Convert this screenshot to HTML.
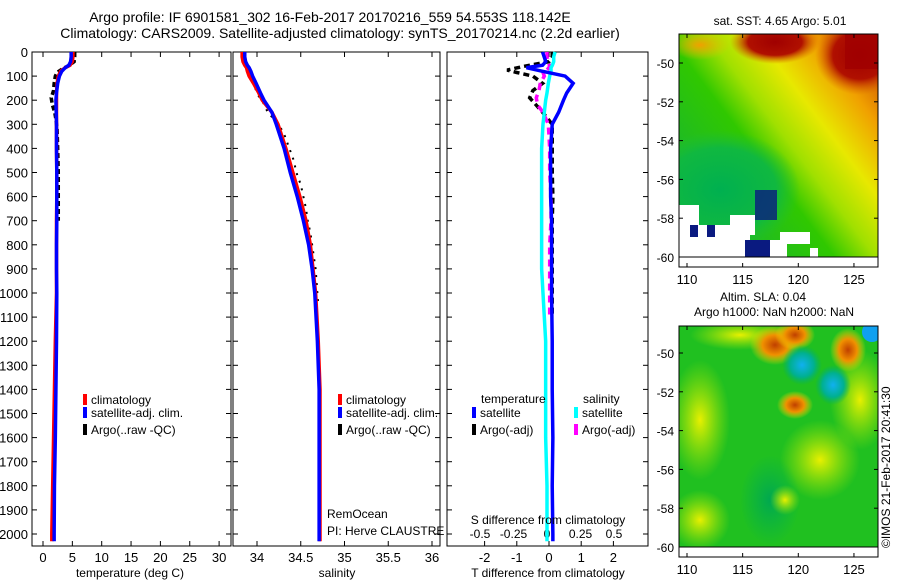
<!DOCTYPE html>
<html><head><meta charset="utf-8"><style>
html,body{margin:0;padding:0;background:#fff}
svg text{font-family:"Liberation Sans",sans-serif;fill:#000}
</style></head><body>
<svg id="fig" width="900" height="580" viewBox="0 0 900 580" xmlns="http://www.w3.org/2000/svg">
<defs>
<radialGradient id="sstRed" cx="0.5" cy="0.5" r="0.5"><stop offset="0" stop-color="#a00000"/><stop offset="0.6" stop-color="#b01000"/><stop offset="1" stop-color="#d86000" stop-opacity="0"/></radialGradient>
<radialGradient id="sstOr" cx="0.5" cy="0.5" r="0.5"><stop offset="0" stop-color="#f0a000"/><stop offset="1" stop-color="#f0c000" stop-opacity="0"/></radialGradient>
<linearGradient id="sstBase" x1="1" y1="0" x2="0" y2="0.85"><stop offset="0" stop-color="#c03000"/><stop offset="0.2" stop-color="#f0a000"/><stop offset="0.36" stop-color="#e8e800"/><stop offset="0.5" stop-color="#a0e000"/><stop offset="0.62" stop-color="#30c800"/><stop offset="1" stop-color="#10b040"/></linearGradient>
<radialGradient id="slaO" cx="0.5" cy="0.5" r="0.5"><stop offset="0" stop-color="#c04000"/><stop offset="0.5" stop-color="#f09000"/><stop offset="1" stop-color="#f0e000" stop-opacity="0"/></radialGradient>
<radialGradient id="slaB" cx="0.5" cy="0.5" r="0.5"><stop offset="0" stop-color="#10b0f0"/><stop offset="0.6" stop-color="#00b090"/><stop offset="1" stop-color="#00b060" stop-opacity="0"/></radialGradient>
<radialGradient id="slaY" cx="0.5" cy="0.5" r="0.5"><stop offset="0" stop-color="#e8f000"/><stop offset="1" stop-color="#b0e800" stop-opacity="0"/></radialGradient>
<radialGradient id="slaG" cx="0.5" cy="0.5" r="0.5"><stop offset="0" stop-color="#00a850"/><stop offset="1" stop-color="#00b050" stop-opacity="0"/></radialGradient>
<radialGradient id="sstG" cx="0.5" cy="0.5" r="0.5"><stop offset="0" stop-color="#00b050"/><stop offset="0.7" stop-color="#10b840"/><stop offset="1" stop-color="#20c030" stop-opacity="0"/></radialGradient>
</defs>
<text x="330" y="22" font-size="14" text-anchor="middle">Argo profile: IF 6901581_302 16-Feb-2017 20170216_559 54.553S 118.142E</text>
<text x="340" y="38" font-size="14" text-anchor="middle">Climatology: CARS2009. Satellite-adjusted climatology: synTS_20170214.nc (2.2d earlier)</text>
<g id="p1"></g>
<g id="p2"></g>
<g id="p3"></g>

<g>
<text x="780" y="25" font-size="12" text-anchor="middle">sat. SST: 4.65  Argo: 5.01</text>
<clipPath id="c1"><rect x="679" y="34" width="199" height="223"/></clipPath>
<g clip-path="url(#c1)">
<rect x="679" y="34" width="199" height="223" fill="url(#sstBase)"/>
<ellipse cx="700" cy="45" rx="30" ry="15" fill="url(#sstOr)"/>
<ellipse cx="720" cy="190" rx="80" ry="60" fill="url(#sstG)"/>
<ellipse cx="775" cy="42" rx="45" ry="22" fill="url(#sstRed)"/>
<ellipse cx="860" cy="55" rx="45" ry="40" fill="url(#sstRed)"/>
<rect x="845" y="34" width="33" height="35" fill="#a00000" opacity="0.8"/>
<rect x="679" y="205" width="20" height="52" fill="#fff"/>
<rect x="695" y="225" width="55" height="32" fill="#fff"/>
<rect x="730" y="215" width="25" height="20" fill="#fff"/>
<rect x="757" y="240" width="30" height="17" fill="#fff"/>
<rect x="780" y="232" width="30" height="12" fill="#fff"/>
<rect x="810" y="248" width="8" height="9" fill="#fff"/>
<rect x="745" y="240" width="25" height="17" fill="#0a1a80"/>
<rect x="755" y="190" width="22" height="30" fill="#0a1a80" opacity="0.8"/>
<rect x="690" y="225" width="8" height="12" fill="#0a1a80"/>
<rect x="707" y="225" width="8" height="12" fill="#0a1a80"/>
</g>
<rect x="679" y="34" width="199" height="223" fill="none" stroke="#000"/>
<rect x="679" y="257" width="199" height="10" fill="#fff" stroke="#000"/>
</g>

<g>
<text x="763" y="301" font-size="12" text-anchor="middle">Altim. SLA: 0.04</text>
<text x="774" y="316" font-size="12" text-anchor="middle">Argo h1000: NaN h2000: NaN</text>
<clipPath id="c2"><rect x="679" y="326" width="199" height="221"/></clipPath>
<g clip-path="url(#c2)">
<rect x="679" y="326" width="199" height="221" fill="#20c020"/>
<ellipse cx="700" cy="420" rx="30" ry="60" fill="url(#slaY)"/>
<ellipse cx="860" cy="400" rx="30" ry="50" fill="url(#slaY)"/>
<ellipse cx="820" cy="460" rx="40" ry="40" fill="url(#slaY)"/>
<ellipse cx="700" cy="520" rx="30" ry="30" fill="url(#slaY)"/>
<ellipse cx="770" cy="500" rx="30" ry="45" fill="url(#slaG)"/>
<ellipse cx="740" cy="335" rx="50" ry="15" fill="url(#slaY)"/>
<ellipse cx="775" cy="345" rx="25" ry="20" fill="url(#slaO)"/>
<ellipse cx="795" cy="335" rx="20" ry="15" fill="url(#slaO)"/>
<ellipse cx="848" cy="350" rx="18" ry="22" fill="url(#slaO)"/>
<ellipse cx="795" cy="405" rx="18" ry="14" fill="url(#slaO)"/>
<ellipse cx="802" cy="365" rx="20" ry="20" fill="url(#slaB)"/>
<ellipse cx="833" cy="385" rx="18" ry="20" fill="url(#slaB)"/>
<ellipse cx="872" cy="332" rx="10" ry="10" fill="#10a0f0"/>
<ellipse cx="785" cy="500" rx="15" ry="15" fill="url(#slaY)"/>
</g>
<rect x="679" y="326" width="199" height="221" fill="none" stroke="#000"/>
<rect x="679" y="547" width="199" height="10" fill="#fff" stroke="#000"/>
<text transform="translate(890,548) rotate(-90)" font-size="12">©IMOS 21-Feb-2017 20:41:30</text>
</g>
<g id="maps"></g>
</svg>
<script>
// ---- data ----
const depths      = [0,20,40,55,65,80,100,130,170,200,250,300,400,500,600,700,800,900,1000,1200,1400,1600,1800,2000,2030];
const tempClim    = [5.1,5.1,5.0,4.6,3.8,3.0,2.6,2.4,2.3,2.3,2.3,2.3,2.3,2.35,2.35,2.3,2.3,2.3,2.3,2.1,1.95,1.8,1.65,1.5,1.5];
const tempSat     = [4.8,4.8,4.7,4.4,3.8,3.2,2.8,2.5,2.3,2.2,2.25,2.3,2.3,2.35,2.35,2.35,2.3,2.3,2.35,2.3,2.2,2.1,1.95,1.9,1.9];
const argoDepths  = [0,20,40,55,70,85,100,130,160,190,220,250,280,320,400,500,600,700];
const tempArgo    = [5.4,5.4,5.3,4.5,3.3,2.4,2.1,1.9,1.8,1.4,1.6,2.0,2.2,2.4,2.5,2.6,2.6,2.6];
const salClim     = [33.83,33.83,33.84,33.86,33.88,33.89,33.91,33.96,34.02,34.06,34.17,34.24,34.33,34.41,34.49,34.56,34.61,34.64,34.67,34.70,34.72,34.72,34.72,34.72,34.72];
const salSat      = [33.86,33.86,33.87,33.89,33.91,33.93,33.95,33.99,34.04,34.08,34.17,34.22,34.31,34.38,34.46,34.53,34.59,34.63,34.66,34.69,34.71,34.71,34.71,34.71,34.71];
const argoSDepths = [150,170,190,210,230,250,300,350,400,450,500,550,600,650,700,750,800,850,900,950,1000,1050];
const salArgo     = [33.98,34.00,34.03,34.07,34.10,34.12,34.25,34.32,34.37,34.42,34.45,34.50,34.53,34.56,34.58,34.61,34.63,34.65,34.67,34.68,34.69,34.70];
const tDiffSat    = [-0.2,-0.15,-0.1,-0.2,-0.7,-0.2,0.5,0.75,0.55,0.45,0.3,0.1,0.05,0.05,0.05,0.08,0.08,0.08,0.08,0.1,0.1,0.12,0.1,0.12,0.12];
const sDiffSat    = [0.06,0.05,0.05,0.04,0.03,0.03,0.02,0.01,0.0,-0.01,-0.02,-0.03,-0.04,-0.04,-0.04,-0.04,-0.04,-0.04,-0.03,-0.01,-0.01,-0.01,0.0,0.0,0.0];
const argoDDepths = [0,20,40,60,75,85,100,130,160,190,220,250,300,400,500,600,700,800,900,1000,1100];
const tDiffArgo   = [0.1,0.1,0.0,-0.8,-1.3,-1.0,-0.5,-0.2,-0.5,-0.6,-0.4,-0.2,0.1,0.1,0.1,0.12,0.1,0.1,0.1,0.1,0.1];
const sDiffArgo   = [0.0,0.0,0.01,0.02,0.0,-0.03,-0.02,-0.05,-0.06,-0.08,-0.07,-0.03,0.01,0.02,0.02,0.03,0.03,0.02,0.02,0.02,0.02];
const depthTicks  = [0,100,200,300,400,500,600,700,800,900,1000,1100,1200,1300,1400,1500,1600,1700,1800,1900,2000];
const tempTicks   = [0,5,10,15,20,25,30];
const salTicks    = [34,34.5,35,35.5,36];
const tdTicks     = [-2,-1,0,1,2];
const sdTicks     = [-0.5,-0.25,0,0.25,0.5];

// ---- scales ----
const TOP=52, BOT=546;
const yD = d => TOP + d*0.241;
const xT = v => 43 + v*5.87;
const xS = v => 257 + (v-34)*87.5;
const xTD = v => 549 + v*32.2;
const xSD = v => 547 + v*134;
const NS='http://www.w3.org/2000/svg';
function el(parent, tag, attrs){const e=document.createElementNS(NS,tag);for(const k in attrs)e.setAttribute(k,attrs[k]);parent.appendChild(e);return e;}

function frame(g, x0, x1, ticks, xf, showDepth){
  const r=el(g,'rect',{x:x0,y:TOP,width:x1-x0,height:BOT-TOP,fill:'none',stroke:'#000','stroke-width':1});
  
  
  depthTicks.forEach(d=>{
    el(g,'line',{x1:x0,x2:x0+5,y1:yD(d),y2:yD(d),stroke:'#000'});
    el(g,'line',{x1:x1,x2:x1-5,y1:yD(d),y2:yD(d),stroke:'#000'});
    if(showDepth){const t=el(g,'text',{x:28,y:yD(d)+5,'font-size':13,'text-anchor':'end'});t.textContent=d;
      
      }
  });
  if(ticks) ticks.forEach(v=>{
    el(g,'line',{x1:xf(v),x2:xf(v),y1:TOP,y2:TOP+5,stroke:'#000'});
    el(g,'line',{x1:xf(v),x2:xf(v),y1:BOT,y2:BOT-5,stroke:'#000'});
    const t=el(g,'text',{x:xf(v),y:BOT+16,'font-size':13,'text-anchor':'middle'});t.textContent=v;
    
    
  });
}
function line(g, ds, vs, xf, color, name, dash, w){
  const pts=ds.map((d,i)=>xf(vs[i])+','+yD(d));
  const p=el(g,'polyline',{points:pts.join(' '),fill:'none',stroke:color,'stroke-width':w||3.5});
  if(dash)p.setAttribute('stroke-dasharray',dash);
  
  
}
function legend(g,x,y,color,label){
  el(g,'rect',{x:x,y:y-10,width:4,height:11,fill:color});
  const t=el(g,'text',{x:x+8,y:y,'font-size':12});t.textContent=label;
  
  
}
function txt(g,x,y,s,anchor,name){const t=el(g,'text',{x:x,y:y,'font-size':12,'text-anchor':anchor||'start'});t.textContent=s;
  
  }

// panel 1
const p1=document.getElementById('p1');
frame(p1,32,231,tempTicks,xT,true);
line(p1,argoDepths,tempArgo,xT,'#000','temp-argo-line','5,3');
line(p1,depths,tempClim,xT,'#f00','temp-climatology-line');
line(p1,depths,tempSat,xT,'#00f','temp-satellite-line');
legend(p1,83,404,'#f00','climatology');legend(p1,83,417,'#00f','satellite-adj. clim.');legend(p1,83,434,'#000','Argo(..raw -QC)');
txt(p1,130,577,'temperature (deg C)','middle','temperature-axis-title');

// panel 2
const p2=document.getElementById('p2');
frame(p2,233,440,salTicks,xS,false);
line(p2,argoSDepths,salArgo,xS,'#000','sal-argo-line','2,6',2);
line(p2,depths,salClim,xS,'#f00','sal-climatology-line');
line(p2,depths,salSat,xS,'#00f','sal-satellite-line');
legend(p2,338,404,'#f00','climatology');legend(p2,338,417,'#00f','satellite-adj. clim.');legend(p2,338,434,'#000','Argo(..raw -QC)');
txt(p2,327,518,'RemOcean','start','project-label');
txt(p2,327,535,'PI: Herve CLAUSTRE','start','pi-label');
txt(p2,337,577,'salinity','middle','salinity-axis-title');

// panel 3
const p3=document.getElementById('p3');
frame(p3,447,648,tdTicks,xTD,false);
sdTicks.forEach(v=>{const t=el(p3,'text',{x:xSD(v),y:538,'font-size':12,'text-anchor':'middle'});t.textContent=v;
  
  });
line(p3,argoDDepths,tDiffArgo,xTD,'#000','tdiff-argo-line','6,4');
line(p3,argoDDepths,sDiffArgo,xSD,'#f0f','sdiff-argo-line','7,5');
line(p3,depths,sDiffSat,xSD,'#0ff','sdiff-satellite-line');
line(p3,depths,tDiffSat,xTD,'#00f','tdiff-satellite-line');
txt(p3,481,403,'temperature','start','legend-temperature-heading');
txt(p3,583,403,'salinity','start','legend-salinity-heading');
legend(p3,472,417,'#00f','satellite');legend(p3,472,434,'#000','Argo(-adj)');
legend(p3,574,417,'#0ff','satellite');legend(p3,574,434,'#f0f','Argo(-adj)');
txt(p3,548,524,'S difference from climatology','middle','s-diff-axis-title');
txt(p3,548,577,'T difference from climatology','middle','t-diff-axis-title');

// map axes
const lonTicks=[110,115,120,125];
const latTicks=[-50,-52,-54,-56,-58,-60];
const maps=document.getElementById('maps');
const xLon=v=>687+(v-110)*11.13;
[[34,267,63,257],[326,557,353,547]].forEach(([top,bot,y50,y60])=>{
  const yL=v=>y50+(v+50)*(y60-y50)/-10;
  latTicks.forEach(v=>{
    el(maps,'line',{x1:679,x2:683,y1:yL(v),y2:yL(v),stroke:'#000'});
    el(maps,'line',{x1:878,x2:874,y1:yL(v),y2:yL(v),stroke:'#000'});
    const t=el(maps,'text',{x:674,y:yL(v)+5,'font-size':12,'text-anchor':'end'});t.textContent=v;
    
    
  });
  lonTicks.forEach(v=>{
    el(maps,'line',{x1:xLon(v),x2:xLon(v),y1:top,y2:top+4,stroke:'#000'});
    el(maps,'line',{x1:xLon(v),x2:xLon(v),y1:bot,y2:bot-4,stroke:'#000'});
    const t=el(maps,'text',{x:xLon(v),y:bot+17,'font-size':13,'text-anchor':'middle'});t.textContent=v;
    
    
  });
});
</script>
</body></html>
